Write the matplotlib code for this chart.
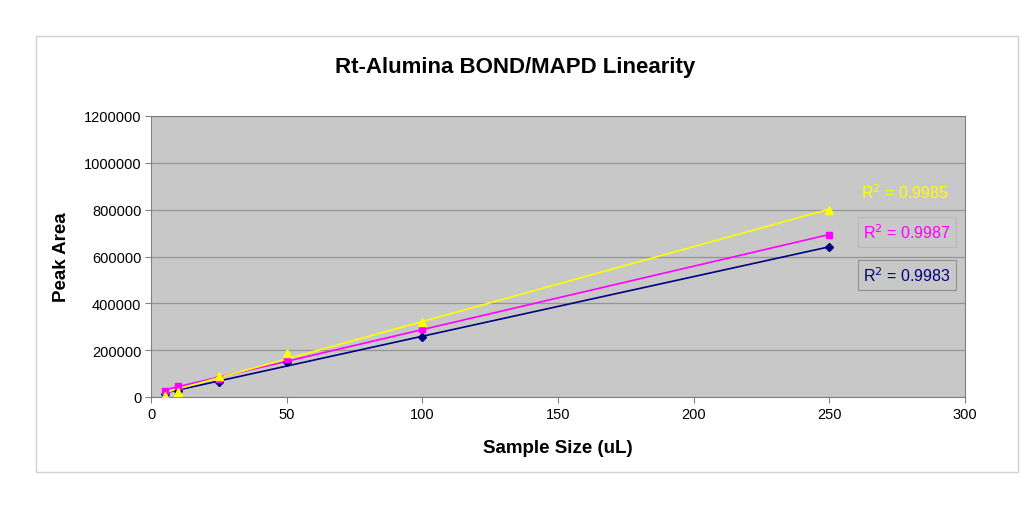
import numpy as np
import matplotlib
matplotlib.use("Agg")
import matplotlib.pyplot as plt
from matplotlib.patches import Rectangle

plt.rcParams['font.family'] = ['Liberation Sans', 'DejaVu Sans']

sample_size = [5, 10, 25, 50, 100, 250]
blue_area = [13000, 26000, 64000, 150000, 256000, 640000]
magenta_area = [26000, 47000, 77000, 162000, 290000, 692000]
yellow_area = [5000, 21000, 90000, 188000, 320000, 798000]
r2_labels = ["0.9983", "0.9987", "0.9985"]
yticks = [0, 200000, 400000, 600000, 800000, 1000000, 1200000]
xticks = [0, 50, 100, 150, 200, 250, 300]

fig = plt.figure(figsize=(10.24, 5.10), dpi=100)
fig.patch.set_facecolor('white')
fig.patches.append(Rectangle((36/1024, 1-473/510), (1018-36)/1024, (473-37)/510,
                             transform=fig.transFigure, fill=False,
                             edgecolor='#d0d0d0', linewidth=1.0))

ax = fig.add_axes([151/1024, 1-398/510, (965-151)/1024, (398-117)/510])
ax.set_facecolor('#c8c8c8')
ax.set_xlim(0, 300)
ax.set_ylim(0, 1200000)
ax.set_xticks(xticks)
ax.set_yticks(yticks)
ax.set_xticklabels([str(v) for v in xticks], fontsize=10.5)
ax.set_yticklabels([str(v) for v in yticks], fontsize=10.5)
ax.yaxis.grid(True, color='#949494', linewidth=0.9)
ax.set_axisbelow(True)
for s in ax.spines.values():
    s.set_color('#808080')
    s.set_linewidth(0.8)
ax.tick_params(axis='both', length=4, color='#808080', pad=3)

series = [
    (blue_area, '#000080', 'D', 4.5),
    (magenta_area, '#ff00ff', 's', 5),
    (yellow_area, '#ffff00', '^', 6),
]
xs = np.array(sample_size, dtype=float)
for vals, col, mk, ms in series:
    ys = np.array(vals, dtype=float)
    k, b = np.polyfit(xs, ys, 1)
    xl = np.array([xs.min(), xs.max()])
    ax.plot(xl, k * xl + b, color=col, linewidth=1.2, zorder=3)
    ax.plot(xs, ys, linestyle='none', marker=mk, color=col, markersize=ms, zorder=4)

ax.text(905/1024, 1-193/510, "R$^2$ = " + r2_labels[2], transform=fig.transFigure,
        color='#ffff00', fontsize=11.5, ha='center', va='center')
ax.text(907/1024, 1-233/510, "R$^2$ = " + r2_labels[1], transform=fig.transFigure,
        color='#ff00ff', fontsize=11.5, ha='center', va='center',
        bbox=dict(boxstyle='square,pad=0.35', fc='#c8c8c8', ec='#b8b8b8', lw=0.8))
ax.text(907/1024, 1-276/510, "R$^2$ = " + r2_labels[0], transform=fig.transFigure,
        color='#000080', fontsize=11.5, ha='center', va='center',
        bbox=dict(boxstyle='square,pad=0.35', fc='#c8c8c8', ec='#909090', lw=0.8))

fig.text(515/1024, 1-67/510, "Rt-Alumina BOND/MAPD Linearity", fontsize=16,
         fontweight='bold', ha='center', va='center')
fig.text(558/1024, 1-449/510, "Sample Size (uL)", fontsize=13.5,
         fontweight='bold', ha='center', va='center')
fig.text(62/1024, 1-257/510, "Peak Area", fontsize=13.5, fontweight='bold',
         ha='center', va='center', rotation=90)

fig.savefig("out.png", dpi=100)
